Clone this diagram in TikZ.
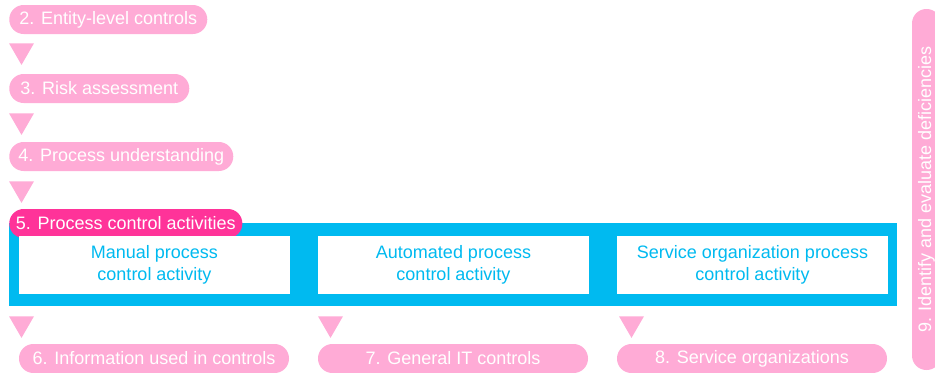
\documentclass[tikz,border=0pt]{standalone}
\usepackage{fontspec}
\setmainfont{Liberation Sans}
\usetikzlibrary{shapes.geometric}
\definecolor{stepPink}{RGB}{255,171,214}
\definecolor{stepMagenta}{RGB}{255,51,153}
\definecolor{ctrlBlue}{RGB}{0,186,240}
\tikzset{
	pill/.style={fill=stepPink, text=white, rounded corners=10.8pt, minimum height=21.75pt, inner xsep=5pt, inner ysep=0pt,
		font=\fontsize{13.5}{15}\selectfont},
	tri/.style={regular polygon, regular polygon sides=3, shape border rotate=180, fill=stepPink, minimum size=21.65pt, inner sep=0pt},
	activity/.style={fill=white, text=ctrlBlue, minimum width=203.25pt, minimum height=43.5pt, align=center,
		font=\fontsize{13.5}{16.5}\selectfont}
}
\begin{document}
\begin{tikzpicture}[x=0.75pt,y=-0.75pt]
	\clip (0,0) rectangle (935,372);
	\useasboundingbox (0,0) rectangle (935,372);
	% left column of steps
	\node (S2) at (9, 19.5)		[pill, anchor=west, minimum width=148.5pt]	{2. Entity-level controls};
	\node (A2) at (21.5, 43)	[tri, anchor=north]	{};
	\node (S3) at (9, 88.5)		[pill, anchor=west, minimum width=135pt]	{3. Risk assessment};
	\node (A3) at (21.5, 113)	[tri, anchor=north]	{};
	\node (S4) at (9, 156.5)	[pill, anchor=west, minimum width=168pt]	{4. Process understanding};
	\node (A4) at (21.5, 181)	[tri, anchor=north]	{};
	% process control activities
	\node (frame) at (453, 264.5)	[fill=ctrlBlue, minimum width=666pt, minimum height=62.25pt, inner sep=0pt] {};
	\node (S5) at (9, 223.5)	[pill, anchor=west, minimum width=174pt, fill=stepMagenta]	{5. Process control activities};
	\node (manual) at (154.5, 265)	[activity]	{Manual process\\control activity};
	\node (auto) at (453.5, 265)	[activity]	{Automated process\\control activity};
	\node (service) at (752.5, 265)	[activity]	{Service organization process\\control activity};
	% follow-up steps
	\node (A6) at (21.5, 316)	[tri, anchor=north]	{};
	\node (A7) at (330.5, 316)	[tri, anchor=north]	{};
	\node (A8) at (631.5, 316)	[tri, anchor=north]	{};
	\node (S6) at (154, 358.5)	[pill, minimum width=202.5pt]	{6. Information used in controls};
	\node (S7) at (453, 358.5)	[pill, minimum width=202.5pt]	{7. General IT controls};
	\node (S8) at (752, 358.5)	[pill, minimum width=202.5pt]	{8. Service organizations};
	\node (S9) at (926.5, 189.5)	[pill, rotate=90, minimum width=270.75pt]	{9. Identify and evaluate deficiencies};
\end{tikzpicture}
\end{document}
